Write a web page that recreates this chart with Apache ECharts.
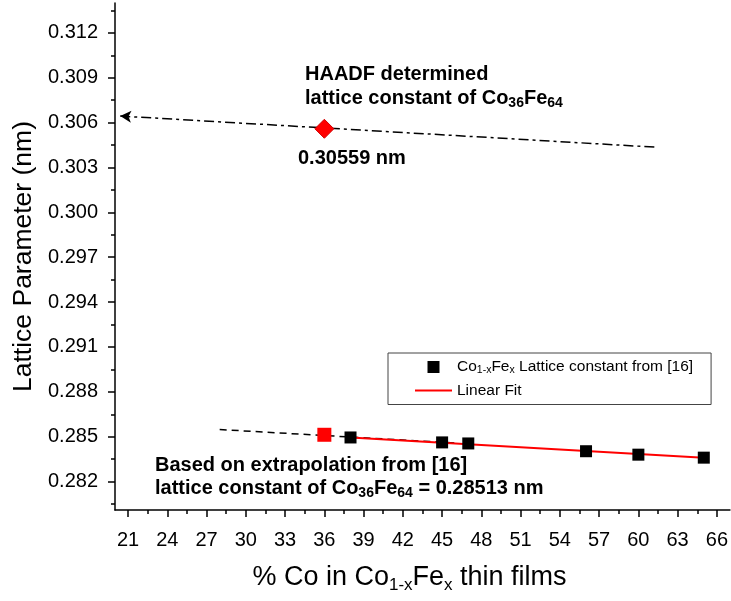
<!DOCTYPE html>
<html>
<head>
<meta charset="utf-8">
<script src="https://cdn.jsdelivr.net/npm/echarts@6/dist/echarts.min.js"></script>
<style>html,body{margin:0;padding:0;background:#fff;}#c{width:731px;height:601px;}</style>
</head>
<body>
<div id="c"></div>
<script>
// ---- data ----
const refX = [38, 45, 47, 56, 60, 65];
const refY = [0.28495, 0.28462, 0.28455, 0.28403, 0.28380, 0.28360];
const fitX = [38, 65];
const fitY = [0.28495, 0.28360];
const extrapX = [28, 46];
const extrapY = [0.28548, 0.28458];
const extrapPoint = [36, 0.28513];
const haadfPoint = [36, 0.30559];
const haadfLineX = [20.4, 61.3];
const haadfLineY = [0.30644, 0.30436];
const xMajor = [21, 24, 27, 30, 33, 36, 39, 42, 45, 48, 51, 54, 57, 60, 63, 66];
const xMinor = [22.5, 25.5, 28.5, 31.5, 34.5, 37.5, 40.5, 43.5, 46.5, 49.5, 52.5, 55.5, 58.5, 61.5, 64.5];
const yMajor = [0.282, 0.285, 0.288, 0.291, 0.294, 0.297, 0.300, 0.303, 0.306, 0.309, 0.312];
const yMinor = [0.2805, 0.2835, 0.2865, 0.2895, 0.2925, 0.2955, 0.2985, 0.3015, 0.3045, 0.3075, 0.3105, 0.3135];

const FONT = '"Liberation Sans", Arial, sans-serif';
const chart = echarts.init(document.getElementById('c'));

const boldRich = {
  n: {fontFamily: FONT, fontWeight: 'bold', fontSize: 20, color: '#000', lineHeight: 24},
  s: {fontFamily: FONT, fontWeight: 'bold', fontSize: 14, color: '#000', lineHeight: 14, verticalAlign: 'bottom'}
};

const option = {
  animation: false,
  grid: {left: 115, right: 0, top: 3, bottom: 91, containLabel: false},
  legend: {
    left: 388, top: 353,
    orient: 'vertical',
    borderColor: '#444', borderWidth: 1,
    padding: [6, 18, 6, 27],
    itemWidth: 37, itemHeight: 12, itemGap: 7,
    selectedMode: false,
    textStyle: {
      fontFamily: FONT, fontSize: 15.5, color: '#000',
      rich: {
        n: {fontFamily: FONT, fontSize: 15.5, color: '#000', lineHeight: 17},
        s: {fontFamily: FONT, fontSize: 10.5, color: '#000', lineHeight: 9, verticalAlign: 'bottom'}
      }
    },
    formatter: function (name) {
      if (name === 'ref') return '{n|Co}{s|1-x}{n|Fe}{s|x}{n| Lattice constant from [16]}';
      return '{n|' + name + '}';
    },
    data: [
      {name: 'ref', icon: 'path://M0,0h10v10h-10z', itemStyle: {color: '#000', opacity: 1}},
      {name: 'Linear Fit', icon: 'path://M0,0h37v2h-37z', itemStyle: {color: '#ff0000'}}
    ]
  },
  xAxis: [{
    type: 'value', min: 20, max: 67, position: 'bottom',
    name: '{n|% Co in Co}{s|1-x}{n|Fe}{s|x}{n| thin films}',
    nameLocation: 'middle', nameGap: 52,
    nameTextStyle: {
      padding: [0, 26, 0, 0],
      rich: {
        n: {fontFamily: FONT, fontSize: 27, color: '#000', lineHeight: 32},
        s: {fontFamily: FONT, fontSize: 17, color: '#000', lineHeight: 16, verticalAlign: 'bottom'}
      }
    },
    splitLine: {show: false},
    axisLine: {show: true, onZero: false, lineStyle: {color: '#000', width: 1.5}},
    axisTick: {show: true, customValues: xMajor, length: 7, lineStyle: {color: '#000', width: 1.5}},
    axisLabel: {customValues: xMajor, fontFamily: FONT, fontSize: 20, color: '#000', margin: 20}
  }, {
    type: 'value', min: 20, max: 67, position: 'bottom',
    splitLine: {show: false},
    axisLine: {show: false},
    axisTick: {show: true, customValues: xMinor, length: 4, lineStyle: {color: '#000', width: 1.5}},
    axisLabel: {show: false}
  }],
  yAxis: [{
    type: 'value', min: 0.2801, max: 0.3140, position: 'left',
    name: 'Lattice Parameter (nm)',
    nameLocation: 'middle', nameGap: 69, nameRotate: 90,
    nameTextStyle: {fontFamily: FONT, fontSize: 26.5, color: '#000'},
    splitLine: {show: false},
    axisLine: {show: true, onZero: false, lineStyle: {color: '#000', width: 1.5}},
    axisTick: {show: true, customValues: yMajor, length: 7, lineStyle: {color: '#000', width: 1.5}},
    axisLabel: {customValues: yMajor, fontFamily: FONT, fontSize: 20, color: '#000', margin: 17,
      formatter: v => v.toFixed(3)}
  }, {
    type: 'value', min: 0.2801, max: 0.3140, position: 'left',
    splitLine: {show: false},
    axisLine: {show: false},
    axisTick: {show: true, customValues: yMinor, length: 4, lineStyle: {color: '#000', width: 1.5}},
    axisLabel: {show: false}
  }],
  series: [
    {
      name: 'extrap', type: 'line', xAxisIndex: 0, yAxisIndex: 0,
      data: extrapX.map((x, i) => [x, extrapY[i]]),
      symbol: 'none', lineStyle: {color: '#000', width: 1.5, type: [7, 5]}, z: 2, silent: true
    },
    {
      name: 'Linear Fit', type: 'line', xAxisIndex: 0, yAxisIndex: 0,
      data: fitX.map((x, i) => [x, fitY[i]]),
      symbol: 'none', showSymbol: false, lineStyle: {color: '#ff0000', width: 2}, itemStyle: {color: '#ff0000'}, z: 3, silent: true
    },
    {
      name: 'ref', type: 'scatter', xAxisIndex: 0, yAxisIndex: 0,
      data: refX.map((x, i) => [x, refY[i]]),
      symbol: 'rect', symbolSize: 12, itemStyle: {color: '#000', opacity: 1}, z: 5, silent: true
    },
    {
      name: 'extrapPoint', type: 'scatter', xAxisIndex: 0, yAxisIndex: 0,
      data: [extrapPoint],
      symbol: 'rect', symbolSize: 14, itemStyle: {color: '#ff0000', opacity: 1}, z: 6, silent: true
    },
    {
      name: 'haadf', type: 'scatter', xAxisIndex: 0, yAxisIndex: 0,
      data: [haadfPoint],
      symbol: 'diamond', symbolSize: 19, itemStyle: {color: '#ff0000', borderColor: '#d00000', borderWidth: 1, opacity: 1}, z: 6, silent: true,
      markLine: {
        silent: true, animation: false,
        symbol: ['arrow', 'none'], symbolSize: [9, 11],
        label: {show: false},
        lineStyle: {color: '#000', width: 1.5, type: [10, 4, 3, 4]},
        data: [[{coord: [haadfLineX[0], haadfLineY[0]]}, {coord: [haadfLineX[1], haadfLineY[1]]}]]
      }
    }
  ],
  graphic: [
    {type: 'text', left: 305, top: 64, style: {text: '{n|HAADF determined}', rich: boldRich}},
    {type: 'text', left: 305, top: 88, style: {text: '{n|lattice constant of Co}{s|36}{n|Fe}{s|64}', rich: boldRich}},
    {type: 'text', left: 298, top: 148, style: {text: '{n|0.30559 nm}', rich: boldRich}},
    {type: 'text', left: 155, top: 455, style: {text: '{n|Based on extrapolation from [16]}', rich: boldRich}},
    {type: 'text', left: 155, top: 478, style: {text: '{n|lattice constant of Co}{s|36}{n|Fe}{s|64}{n| = 0.28513 nm}', rich: boldRich}}
  ]
};
chart.setOption(option);
</script>
</body>
</html>
